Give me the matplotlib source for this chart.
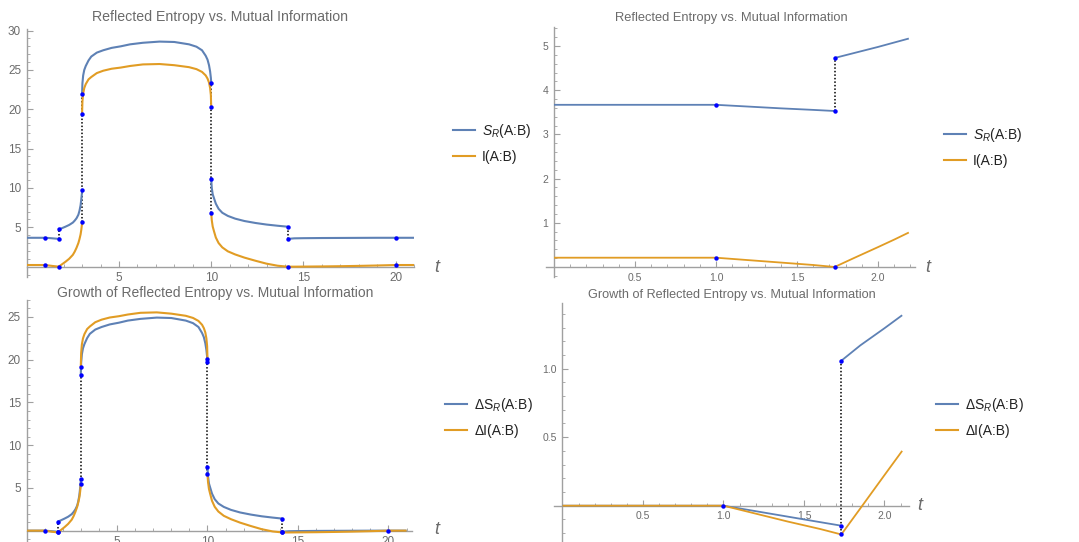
import numpy as np
import matplotlib
matplotlib.use("Agg")
import matplotlib.pyplot as plt
from matplotlib.ticker import MultipleLocator, FormatStrFormatter, FixedLocator

plt.rcParams['font.family'] = ['Liberation Sans', 'DejaVu Sans']
plt.rcParams['mathtext.fontset'] = 'custom'
plt.rcParams['mathtext.rm'] = 'Liberation Sans'
plt.rcParams['mathtext.it'] = 'Liberation Sans:italic'

R3 = 1.732      # sqrt(3)
T14 = 14.14     # 10*sqrt(2)

# ---- left panels: full time range
t1 = [0, 0.5, 1.0, 1.2, 1.4, 1.6, R3]
t2 = [R3, 1.9, 2.1, 2.3, 2.5, 2.6, 2.7, 2.8, 2.86, 2.92, 2.96, 2.99, 3.0]
t3 = [3.0, 3.02, 3.06, 3.12, 3.2, 3.35, 3.5, 3.8, 4.15, 4.6, 5.1, 5.6, 6.3, 7.2,
      8.0, 8.8, 9.2, 9.5, 9.7, 9.8, 9.88, 9.94, 9.98, 10.0]
t4 = [10.0, 10.03, 10.08, 10.15, 10.25, 10.4, 10.6, 10.9, 11.3, 11.8, 12.4, 13.0, 13.6, T14]
t5 = [T14, 14.5, 15, 16, 17, 18, 19, 20, 21]

sr1 = [3.67, 3.67, 3.67, 3.64, 3.60, 3.56, 3.53]
sr2 = [4.73, 4.88, 5.08, 5.3, 5.6, 5.85, 6.15, 6.6, 7.1, 7.8, 8.6, 9.3, 9.75]
sr3 = [21.9, 23.3, 24.3, 25.0, 25.5, 26.2, 26.7, 27.2, 27.5, 27.8, 28.0, 28.25, 28.45, 28.6,
       28.55, 28.25, 27.95, 27.5, 26.8, 26.3, 25.6, 24.8, 24.0, 23.4]
sr4 = [11.1, 10.0, 9.2, 8.7, 8.0, 7.35, 6.85, 6.45, 6.1, 5.8, 5.55, 5.35, 5.2, 5.08]
sr5 = [3.53, 3.6, 3.62, 3.64, 3.65, 3.66, 3.67, 3.67, 3.67]

mi1 = [0.21, 0.21, 0.21, 0.15, 0.09, 0.04, 0.0]
mi2 = [0.0, 0.28, 0.62, 1.0, 1.5, 1.9, 2.4, 3.0, 3.5, 4.1, 4.7, 5.3, 5.7]
mi3 = [19.35, 21.0, 22.0, 22.7, 23.2, 23.8, 24.1, 24.6, 24.9, 25.15, 25.3, 25.5, 25.7, 25.75,
       25.6, 25.35, 25.1, 24.75, 24.3, 23.9, 23.4, 22.7, 21.8, 20.3]
mi4 = [6.8, 5.9, 5.1, 4.5, 3.7, 3.0, 2.45, 1.95, 1.55, 1.15, 0.75, 0.38, 0.12, 0.0]
mi5 = [0.0, 0.0, 0.01, 0.03, 0.06, 0.1, 0.15, 0.21, 0.21]

dsr1 = [0, 0, 0, -0.03, -0.07, -0.11, -0.14]
dsr2 = [1.06, 1.21, 1.41, 1.63, 1.93, 2.18, 2.48, 2.93, 3.43, 4.13, 4.93, 5.63, 6.08]
dsr3 = [18.23, 19.63, 20.63, 21.33, 21.83, 22.53, 23.03, 23.53, 23.83, 24.13, 24.33, 24.58,
        24.78, 24.93, 24.88, 24.58, 24.28, 23.83, 23.13, 22.63, 21.93, 21.13, 20.33, 19.73]
dsr4 = [7.43, 6.33, 5.53, 5.03, 4.33, 3.68, 3.18, 2.78, 2.43, 2.13, 1.88, 1.68, 1.53, 1.41]
dsr5 = [-0.14, -0.07, -0.05, -0.03, -0.02, -0.01, 0, 0, 0]

dmi1 = [0, 0, 0, -0.06, -0.12, -0.17, -0.21]
dmi2 = [-0.21, 0.07, 0.41, 0.79, 1.29, 1.69, 2.19, 2.79, 3.29, 3.89, 4.49, 5.09, 5.49]
dmi3 = [19.14, 20.79, 21.79, 22.49, 22.99, 23.59, 23.89, 24.39, 24.69, 24.94, 25.09, 25.29,
        25.49, 25.54, 25.39, 25.14, 24.89, 24.54, 24.09, 23.69, 23.19, 22.49, 21.59, 20.09]
dmi4 = [6.59, 5.69, 4.89, 4.29, 3.49, 2.79, 2.24, 1.74, 1.34, 0.94, 0.54, 0.17, -0.09, -0.21]
dmi5 = [-0.21, -0.21, -0.2, -0.18, -0.15, -0.11, -0.06, 0, 0]

# jump points (blue dots) and dotted connectors
dots_tl_t = [1, 1, R3, R3, R3, 3, 3, 3, 3, 10, 10, 10, 10, T14, T14, T14, 20, 20]
dots_tl_v = [3.67, 0.21, 3.53, 4.73, 0.0, 9.75, 21.9, 5.7, 19.35, 23.4, 20.3, 11.1, 6.8,
             5.08, 3.53, 0.0, 3.67, 0.21]
jumps_tl = [(R3, 3.53, 4.73), (3, 5.7, 21.9), (10, 6.8, 23.4), (T14, 3.53, 5.08)]

dots_bl_t = [1, R3, R3, R3, 3, 3, 3, 3, 10, 10, 10, 10, T14, T14, T14, 20]
dots_bl_v = [0, 1.06, -0.14, -0.21, 19.14, 18.23, 6.08, 5.49, 20.09, 19.73, 7.43, 6.59,
             1.41, -0.14, -0.21, 0]
jumps_bl = [(R3, -0.21, 1.06), (3, 5.49, 19.14), (10, 6.59, 20.09), (T14, -0.21, 1.41)]

# ---- right panels: early times only
rt_a = [0, 0.5, 1.0, 1.2, 1.4, 1.6, R3]
rt_b = [R3, 1.85, 2.0, 2.1, 2.19]
r_sr_a = [3.67, 3.67, 3.67, 3.63, 3.59, 3.555, 3.53]
r_sr_b = [4.73, 4.84, 4.98, 5.08, 5.17]
r_mi_a = [0.21, 0.21, 0.21, 0.155, 0.1, 0.045, 0.0]
r_mi_b = [0.0, 0.2, 0.45, 0.62, 0.78]

rb_b = [R3, 1.85, 2.0, 2.11]
r_dsr_a = [0, 0, 0, -0.04, -0.08, -0.12, -0.146]
r_dsr_b = [1.058, 1.17, 1.295, 1.39]
r_dmi_a = [0, 0, 0, -0.058, -0.116, -0.17, -0.21]
r_dmi_b = [-0.21, -0.02, 0.223, 0.40]

dots_tr_t = [1, 1, R3, R3, R3]
dots_tr_v = [3.67, 0.21, 3.53, 4.73, 0.0]
dots_br_t = [1, R3, R3, R3]
dots_br_v = [0, 1.058, -0.146, -0.21]

BLUE = '#5e81b5'
ORANGE = '#e19c24'
AXC = '#a0a0a0'
TXC = '#6b6b6b'

W, H = 1079, 542
fig = plt.figure(figsize=(W / 100, H / 100), dpi=100)


def px_axes(x0, x1, ytop, ybot):
    return fig.add_axes([x0 / W, 1 - ybot / H, (x1 - x0) / W, (ybot - ytop) / H])


def style(ax, xmaj, xmin, ymaj, ymin, fs, fmt=None):
    for s in ['top', 'right']:
        ax.spines[s].set_visible(False)
    ax.spines['left'].set_position(('data', 0))
    ax.spines['bottom'].set_position(('data', 0))
    for s in ['left', 'bottom']:
        ax.spines[s].set_color(AXC)
        ax.spines[s].set_linewidth(1.0)
    ax.xaxis.set_major_locator(FixedLocator(xmaj))
    ax.yaxis.set_major_locator(FixedLocator(ymaj))
    ax.xaxis.set_minor_locator(MultipleLocator(xmin))
    ax.yaxis.set_minor_locator(MultipleLocator(ymin))
    if fmt:
        ax.xaxis.set_major_formatter(FormatStrFormatter(fmt[0]))
        ax.yaxis.set_major_formatter(FormatStrFormatter(fmt[1]))
    ax.tick_params(which='major', direction='in', length=4, width=0.8, color=AXC,
                   labelcolor=TXC, labelsize=fs, pad=4)
    ax.tick_params(which='minor', direction='in', length=2.2, width=0.6, color=AXC)
    ax.patch.set_alpha(0)


def draw(ax, segs, dots_t, dots_v, jumps, lw):
    for t, v, c in segs:
        ax.plot(t, v, color=c, lw=lw, solid_capstyle='butt', zorder=3)
    for x, lo, hi in jumps:
        ax.plot([x, x], [lo, hi], color='black', ls=(0, (1, 1.3)), lw=1.1, zorder=2)
    ax.plot(dots_t, dots_v, 'o', color='#0000ff', ms=3.2, mec='none', zorder=5)


# top-left
ax1 = px_axes(26.7, 414.2, 29.0, 276.9)
ax1.set_xlim(0, 21)
ax1.set_ylim(-1.3, 30.2)
draw(ax1, [(t1, sr1, BLUE), (t2, sr2, BLUE), (t3, sr3, BLUE), (t4, sr4, BLUE), (t5, sr5, BLUE),
           (t1, mi1, ORANGE), (t2, mi2, ORANGE), (t3, mi3, ORANGE), (t4, mi4, ORANGE), (t5, mi5, ORANGE)],
     dots_tl_t, dots_tl_v, jumps_tl, 1.5)
style(ax1, [5, 10, 15, 20], 1, [5, 10, 15, 20, 25, 30], 1, 8.5)

# bottom-left
ax2 = px_axes(26.5, 412.0, 299.9, 542.2)
ax2.set_xlim(0, 21.3)
ax2.set_ylim(-1.35, 27.0)
draw(ax2, [(t1, dsr1, BLUE), (t2, dsr2, BLUE), (t3, dsr3, BLUE), (t4, dsr4, BLUE), (t5, dsr5, BLUE),
           (t1, dmi1, ORANGE), (t2, dmi2, ORANGE), (t3, dmi3, ORANGE), (t4, dmi4, ORANGE), (t5, dmi5, ORANGE)],
     dots_bl_t, dots_bl_v, jumps_bl, 1.5)
style(ax2, [5, 10, 15, 20], 1, [5, 10, 15, 20, 25], 1, 8.5)

# top-right
ax3 = px_axes(545.9, 915.3, 26.6, 276.7)
ax3.set_xlim(-0.05, 2.23)
ax3.set_ylim(-0.22, 5.44)
draw(ax3, [(rt_a, r_sr_a, BLUE), (rt_b, r_sr_b, BLUE), (rt_a, r_mi_a, ORANGE), (rt_b, r_mi_b, ORANGE)],
     dots_tr_t, dots_tr_v, [(R3, 3.53, 4.73)], 1.3)
style(ax3, [0.5, 1.0, 1.5, 2.0], 0.1, [1, 2, 3, 4, 5], 0.2, 7.5, ('%.1f', '%d'))

# bottom-right
ax4 = px_axes(554.45, 908.6, 302.9, 542.0)
ax4.set_xlim(-0.05, 2.15)
ax4.set_ylim(-0.265, 1.48)
draw(ax4, [(rt_a, r_dsr_a, BLUE), (rb_b, r_dsr_b, BLUE), (rt_a, r_dmi_a, ORANGE), (rb_b, r_dmi_b, ORANGE)],
     dots_br_t, dots_br_v, [(R3, -0.21, 1.058)], 1.3)
style(ax4, [0.5, 1.0, 1.5, 2.0], 0.1, [0.5, 1.0], 0.1, 7.5, ('%.1f', '%.1f'))

# titles
fig.text(220 / W, 1 - 17 / H, 'Reflected Entropy vs. Mutual Information', ha='center', va='center',
         color=TXC, fontsize=10.2)
fig.text(731 / W, 1 - 18 / H, 'Reflected Entropy vs. Mutual Information', ha='center', va='center',
         color=TXC, fontsize=9.3)
fig.text(215.5 / W, 1 - 292.5 / H, 'Growth of Reflected Entropy vs. Mutual Information', ha='center',
         va='center', color=TXC, fontsize=10.0)
fig.text(731.5 / W, 1 - 295 / H, 'Growth of Reflected Entropy vs. Mutual Information', ha='center',
         va='center', color=TXC, fontsize=9.1)

# t labels
for x, y in [(437, 267), (927.7, 267), (437, 530), (920, 506)]:
    fig.text(x / W, 1 - y / H, 't', style='italic', ha='center', va='center', color=TXC, fontsize=13)

# legends
leg_items = [
    (ax1, ['$S_R$(A:B)', 'I(A:B)'], 453, 143),
    (ax3, ['$S_R$(A:B)', 'I(A:B)'], 944, 147),
    (ax2, ['Δ$\\mathrm{S}_R$(A:B)', 'ΔI(A:B)'], 445, 417),
    (ax4, ['Δ$\\mathrm{S}_R$(A:B)', 'ΔI(A:B)'], 936, 417),
]
for ax, labels, x, y in leg_items:
    h = [plt.Line2D([], [], color=BLUE, lw=1.5), plt.Line2D([], [], color=ORANGE, lw=1.5)]
    fig.legend(h, labels, loc='center left', bbox_to_anchor=(x / W, 1 - y / H), frameon=False,
               fontsize=10, handlelength=1.6, handletextpad=0.5, labelspacing=0.75,
               borderpad=0, borderaxespad=0, labelcolor='#222222')

fig.savefig('out.png', dpi=100)
